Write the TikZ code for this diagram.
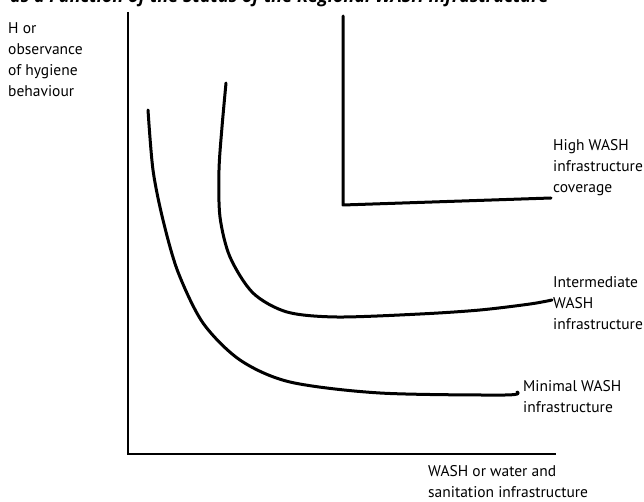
\documentclass[tikz,border=0pt]{standalone}
\usepackage{fontspec}
\setmainfont{PT Sans}
\newfontfamily\titlefont{Open Sans}
\usepackage{tikz}

\tikzset{
  curve/.style={line width=3pt, line cap=round, line join=round},
  axis/.style={line width=1.8pt},
  lbl/.style={anchor=north west, inner sep=0pt, align=left,
    font=\fontsize{15.5}{21}\selectfont},
}

\begin{document}
\begin{tikzpicture}[x=1pt,y=-1pt]
            \useasboundingbox (0,0) rectangle (644,502);
            % axes
            \draw [axis] (128,12) -- (128,454) -- (556,454);
            % high coverage
            \draw [curve] (343,16) -- (343,205) -- (551,198);
            % intermediate coverage
            \draw [curve] plot [smooth] coordinates {(226,83) (222,127) (219,170)
              (220,217) (230,257) (253,293) (287,312) (337,317) (420,314)
              (480,310) (530,304) (552,300)};
            % minimal coverage
            \draw [curve] plot [smooth] coordinates {(148,110) (153,170) (163,220)
              (178,272) (203,323) (240,360) (290,382) (380,393) (505,395)
              (517,392)};
          \node (title) [anchor=base west, inner sep=0pt,
            font=\titlefont\fontsize{18}{22}\selectfont\bfseries\itshape] at (10,3)
            {as a Function of the Status of the Regional WASH Infrastructure};
          \node (ylab) [lbl] at (8,22) {H or\\observance\\of hygiene\\behaviour};
          \node (highlab) [lbl] at (553,139) {High WASH\\infrastructure\\coverage};
          \node (midlab) [lbl] at (553,276) {Intermediate\\WASH\\infrastructure};
          \node (minlab) [lbl] at (523,380) {Minimal WASH\\infrastructure};
          \node (xlab) [lbl] at (428,465) {WASH or water and\\sanitation infrastructure};
        \end{tikzpicture}
\end{document}
